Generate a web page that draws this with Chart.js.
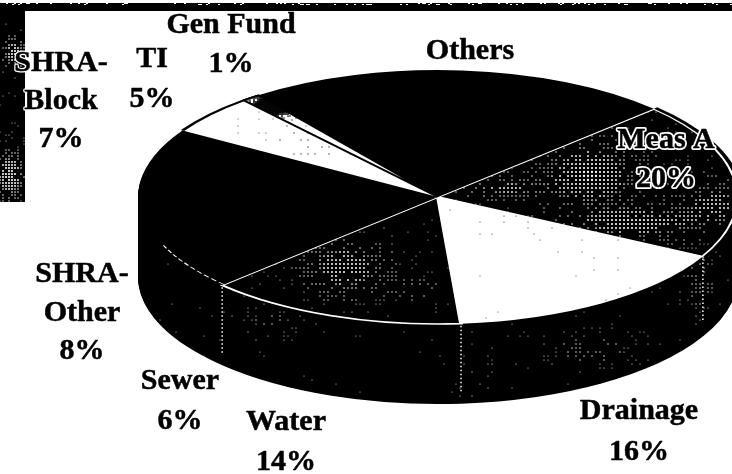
<!DOCTYPE html>
<html>
<head>
<meta charset="utf-8">
<style>
html, body { margin: 0; padding: 0; background: #fff; }
canvas { display: block; }
</style>
<script src="https://cdn.jsdelivr.net/npm/chart.js@4"></script>
</head>
<body>
<canvas id="myChart" width="732" height="474"></canvas>
<script>
// clockwise, starting at Meas A. Others has no printed share, it is what is left of 100
const categories = ['Meas A', 'Drainage', 'Water', 'Sewer', 'SHRA-Other', 'SHRA-Block', 'TI', 'Gen Fund', 'Others'];
const shares = [20, 16, 14, 6, 8, 7, 5, 1, 23];

const labelLines = [
    ['Meas A', '20%'], ['Drainage', '16%'], ['Water', '14%'], ['Sewer', '6%'],
    ['SHRA-', 'Other', '8%'], ['SHRA-', 'Block', '7%'], ['TI', '5%'], ['Gen Fund', '1%'], ['Others']
];
const labelX = [666, 639, 286, 180, 82, 61, 152, 231, 470];
const labelY = [148, 419, 430, 389, 282, 71, 67, 33, 59];
const labelStep = [39, 41, 40, 40, 38.5, 38, 40, 39, 0];

// the tilted pie on the page
const CX = 438, CY = 197, RX = 300, RY = 127, DEPTH = 80;

function hash(x, y) {
    const s = Math.sin(x * 12.9898 + y * 78.233) * 43758.5453;
    return s - Math.floor(s);
}

// scan-like texture, in page pixels
function halftone(base, ink, gap, blobs, floor) {
    const c = document.createElement('canvas');
    c.width = 732; c.height = 474;
    const g = c.getContext('2d');
    g.fillStyle = base;
    g.fillRect(0, 0, 732, 474);
    g.fillStyle = ink;
    for (let y = 0; y < 474; y += gap) {
        for (let x = 0; x < 732; x += gap) {
            let v = floor;
            blobs.forEach(function(b) {
                const dx = (x - b[0]) / b[2], dy = (y - b[1]) / b[3];
                v += b[4] * Math.exp(-dx * dx - dy * dy);
            });
            if (hash(x, y) > v * 1.5) continue;
            g.beginPath();
            g.arc(x, y, Math.min(1.2, 0.5 + v * 0.9), 0, Math.PI * 2);
            g.fill();
        }
    }
    return c;
}

const ctx0 = document.getElementById('myChart').getContext('2d');
function tex(c) { return ctx0.createPattern(c, 'no-repeat'); }

const measTex = tex(halftone('#000', '#fff', 4, [[590, 175, 40, 28, 0.6], [505, 188, 40, 10, 0.35], [635, 222, 55, 14, 0.55], [715, 205, 30, 20, 0.4]], 0.12));
const drainTex = tex(halftone('#fff', '#222', 6, [[520, 225, 60, 25, 0.12], [620, 255, 30, 15, 0.1]], 0.02));
const waterTex = tex(halftone('#000', '#fff', 4, [[345, 268, 42, 28, 0.55], [420, 290, 25, 12, 0.25]], 0.03));
const tiTex = tex(halftone('#fff', '#333', 7, [[310, 140, 60, 25, 0.2]], 0.02));
const fundTex = tex(halftone('#fff', '#000', 2, [[272, 106, 24, 12, 1.2]], 0));
const wallTex = tex(halftone('#000', '#fff', 4, [[590, 350, 50, 20, 0.2], [700, 280, 20, 40, 0.2], [480, 375, 25, 22, 0.12], [270, 320, 40, 20, 0.15]], 0.01));
const scanTex = halftone('#000', '#fff', 3, [[14, 52, 10, 14, 0.6], [10, 175, 14, 22, 0.65]], 0.03);

const sliceFills = [measTex, drainTex, waterTex, '#000', '#000', '#000', tiTex, fundTex, '#000'];
const sliceLines = ['#fff', '#000', '#fff', '#000', '#000', '#000', '#000', '#000', '#000'];
const sliceLineWidths = [3, 0, 3, 0, 0, 0, 0, 2.5, 0];

function squash(ctx, arc, dy) {
    const r = arc.outerRadius;
    ctx.translate(CX, CY + dy);
    ctx.scale(RX / r, RY / r);
    ctx.translate(-arc.x, -arc.y);
}

function rimLine(ctx, arc, color, width, dash, extra) {
    ctx.save();
    ctx.strokeStyle = color;
    ctx.lineWidth = width;
    ctx.setLineDash(dash);
    ctx.beginPath();
    ctx.arc(arc.x, arc.y, arc.outerRadius + extra, arc.startAngle, arc.endAngle);
    ctx.stroke();
    ctx.restore();
}

const tiltedPie = {
    id: 'tiltedPie',
    beforeDraw(chart) {
        const ctx = chart.ctx;
        // the dirty edges of the scanned page
        ctx.drawImage(scanTex, 0, 10, 25, 192, 0, 10, 25, 192);
        ctx.fillStyle = '#000';
        ctx.fillRect(0, 3, 732, 8);
        ctx.fillStyle = '#fff';
        for (let x = 0; x < 732; x += 2) {
            if (hash(x, 1) > 0.55) ctx.fillRect(x, 1 + Math.floor(hash(x, 2) * 4), 2, 1);
        }
    },
    beforeDatasetsDraw(chart) {
        const ctx = chart.ctx;
        const arcs = chart.getDatasetMeta(0).data;
        for (let d = DEPTH; d > 0; d--) {
            ctx.save();
            squash(ctx, arcs[0], d);
            wallTex.setTransform(ctx.getTransform().inverse());
            arcs.forEach(function(arc) {
                const o = arc.options;
                const flat = Object.create(o);
                flat.backgroundColor = wallTex;
                flat.borderWidth = 0;
                arc.options = flat;
                arc.draw(ctx);
                arc.options = o;
            });
            ctx.restore();
        }
        ctx.save();
        squash(ctx, arcs[0], 0);
        const m = ctx.getTransform().inverse();
        [measTex, drainTex, waterTex, tiTex, fundTex].forEach(function(p) { p.setTransform(m); });
    },
    afterDatasetsDraw(chart) {
        const ctx = chart.ctx;
        const arcs = chart.getDatasetMeta(0).data;
        rimLine(ctx, arcs[0], '#000', 3.5, [], 2);
        rimLine(ctx, arcs[3], '#fff', 1.2, [6, 3], -2);
        rimLine(ctx, arcs[6], '#000', 3, [], 0);
        rimLine(ctx, arcs[7], '#000', 3, [], 0);
        ctx.restore();

        // dotted seams on the front wall
        [0, 1, 2].forEach(function(i) {
            const a = arcs[i].endAngle;
            const x = CX + RX * Math.cos(a), y = CY + RY * Math.sin(a);
            ctx.save();
            ctx.strokeStyle = '#fff';
            ctx.lineWidth = 1.5;
            ctx.setLineDash([1.5, 2.5]);
            ctx.beginPath();
            ctx.moveTo(x, y + 2);
            ctx.lineTo(x, y + DEPTH - (i == 0 ? 16 : 12));
            ctx.stroke();
            ctx.restore();
        });

        ctx.save();
        ctx.font = 'bold 30px "Liberation Serif"';
        ctx.textAlign = 'center';
        ctx.textBaseline = 'alphabetic';
        ctx.lineJoin = 'round';
        labelLines.forEach(function(lines, i) {
            lines.forEach(function(t, k) {
                const y = labelY[i] + k * labelStep[i];
                // Meas A sits on the slice, SHRA-Block touches the dark page edge
                if (i == 0 || i == 5) {
                    ctx.strokeStyle = '#fff';
                    ctx.lineWidth = i == 0 ? 4 : 3;
                    ctx.strokeText(t, labelX[i], y);
                }
                ctx.fillStyle = '#000';
                ctx.strokeStyle = '#000';
                ctx.lineWidth = 0.5;
                ctx.strokeText(t, labelX[i], y);
                ctx.fillText(t, labelX[i], y);
            });
        });
        ctx.restore();
    }
};

new Chart(document.getElementById('myChart'), {
    type: 'pie',
    data: {
        labels: categories,
        datasets: [{
            data: shares,
            backgroundColor: sliceFills,
            borderColor: sliceLines,
            borderWidth: sliceLineWidths,
            borderJoinStyle: 'miter',
            clip: false
        }]
    },
    options: {
        responsive: false,
        animation: false,
        rotation: 46,
        layout: { padding: 0 },
        plugins: { legend: { display: false }, tooltip: { enabled: false } }
    },
    plugins: [tiltedPie]
});
</script>
</body>
</html>
